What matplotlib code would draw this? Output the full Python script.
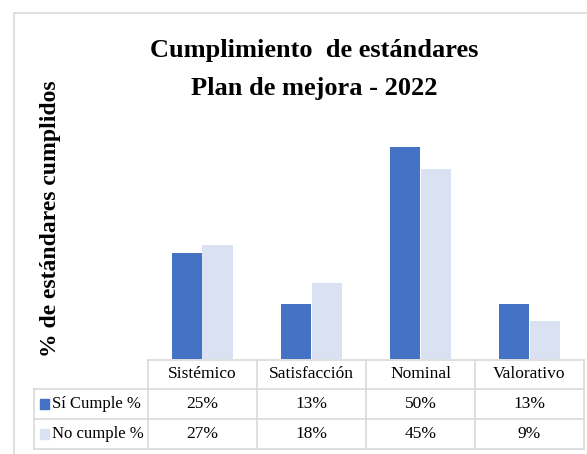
import matplotlib
matplotlib.use("Agg")
import matplotlib.pyplot as plt
from matplotlib.patches import Rectangle
import numpy as np

plt.rcParams['font.family'] = ['Liberation Serif', 'DejaVu Serif']

categories = ["Sistémico", "Satisfacción", "Nominal", "Valorativo"]
series_names = ["Sí Cumple %", "No cumple %"]
si_cumple = [25, 13, 50, 13]
no_cumple = [27, 18, 45, 9]
colors = ["#4472C4", "#D9E1F2"]

W, H = 587, 454
fig = plt.figure(figsize=(W / 100, H / 100), dpi=100)

# marco del gráfico
ov = fig.add_axes([0, 0, 1, 1])
ov.set_xlim(0, W)
ov.set_ylim(H, 0)
ov.axis('off')
ov.plot([14, 14, W + 5], [H + 5, 13, 13], color="#d9d9d9", lw=1.2)

# zona de barras
left, right, base, top = 148, 584, 359, 105
ax = fig.add_axes([left / W, (H - base) / H, (right - left) / W, (base - top) / H])
x = np.arange(len(categories))
w = 0.28
ax.bar(x - w / 2, si_cumple, w, color=colors[0])
ax.bar(x + w / 2, no_cumple, w, color=colors[1])
ax.set_xlim(-0.5, len(categories) - 0.5)
ax.set_ylim(0, 60)
ax.axis('off')

fig.text(314 / W, 1 - 50 / H, "Cumplimiento  de estándares",
         ha='center', va='center', fontsize=19, fontweight='bold')
fig.text(314 / W, 1 - 89 / H, "Plan de mejora - 2022",
         ha='center', va='center', fontsize=19, fontweight='bold')
fig.text(51 / W, 1 - 219 / H, "% de estándares cumplidos", rotation=90,
         ha='center', va='center', fontsize=17, fontweight='bold')

# tabla de datos
gc = "#d9d9d9"
colw = (right - left) / len(categories)
rows_y = [360, 389, 419, 449]
lab_x = 34
for y in rows_y:
    x0 = left if y == rows_y[0] else lab_x
    ov.plot([x0, right], [y, y], color=gc, lw=1.2)
ov.plot([lab_x, lab_x], [rows_y[1], rows_y[3]], color=gc, lw=1.2)
for j in range(len(categories) + 1):
    xx = left + j * colw
    ov.plot([xx, xx], [rows_y[0], rows_y[3]], color=gc, lw=1.2)

for j, cat in enumerate(categories):
    cx = left + (j + 0.5) * colw
    ov.text(cx, (rows_y[0] + rows_y[1]) / 2, cat, ha='center', va='center', fontsize=12.5)
    for r, vals in enumerate([si_cumple, no_cumple]):
        ov.text(cx, (rows_y[r + 1] + rows_y[r + 2]) / 2, f"{vals[j]}%",
                ha='center', va='center', fontsize=12.5)

for r, name in enumerate(series_names):
    cy = (rows_y[r + 1] + rows_y[r + 2]) / 2
    ov.add_patch(Rectangle((40, cy - 5), 9, 10, color=colors[r]))
    ov.text(52, cy, name, ha='left', va='center', fontsize=12)

fig.savefig("out.png", dpi=100)
